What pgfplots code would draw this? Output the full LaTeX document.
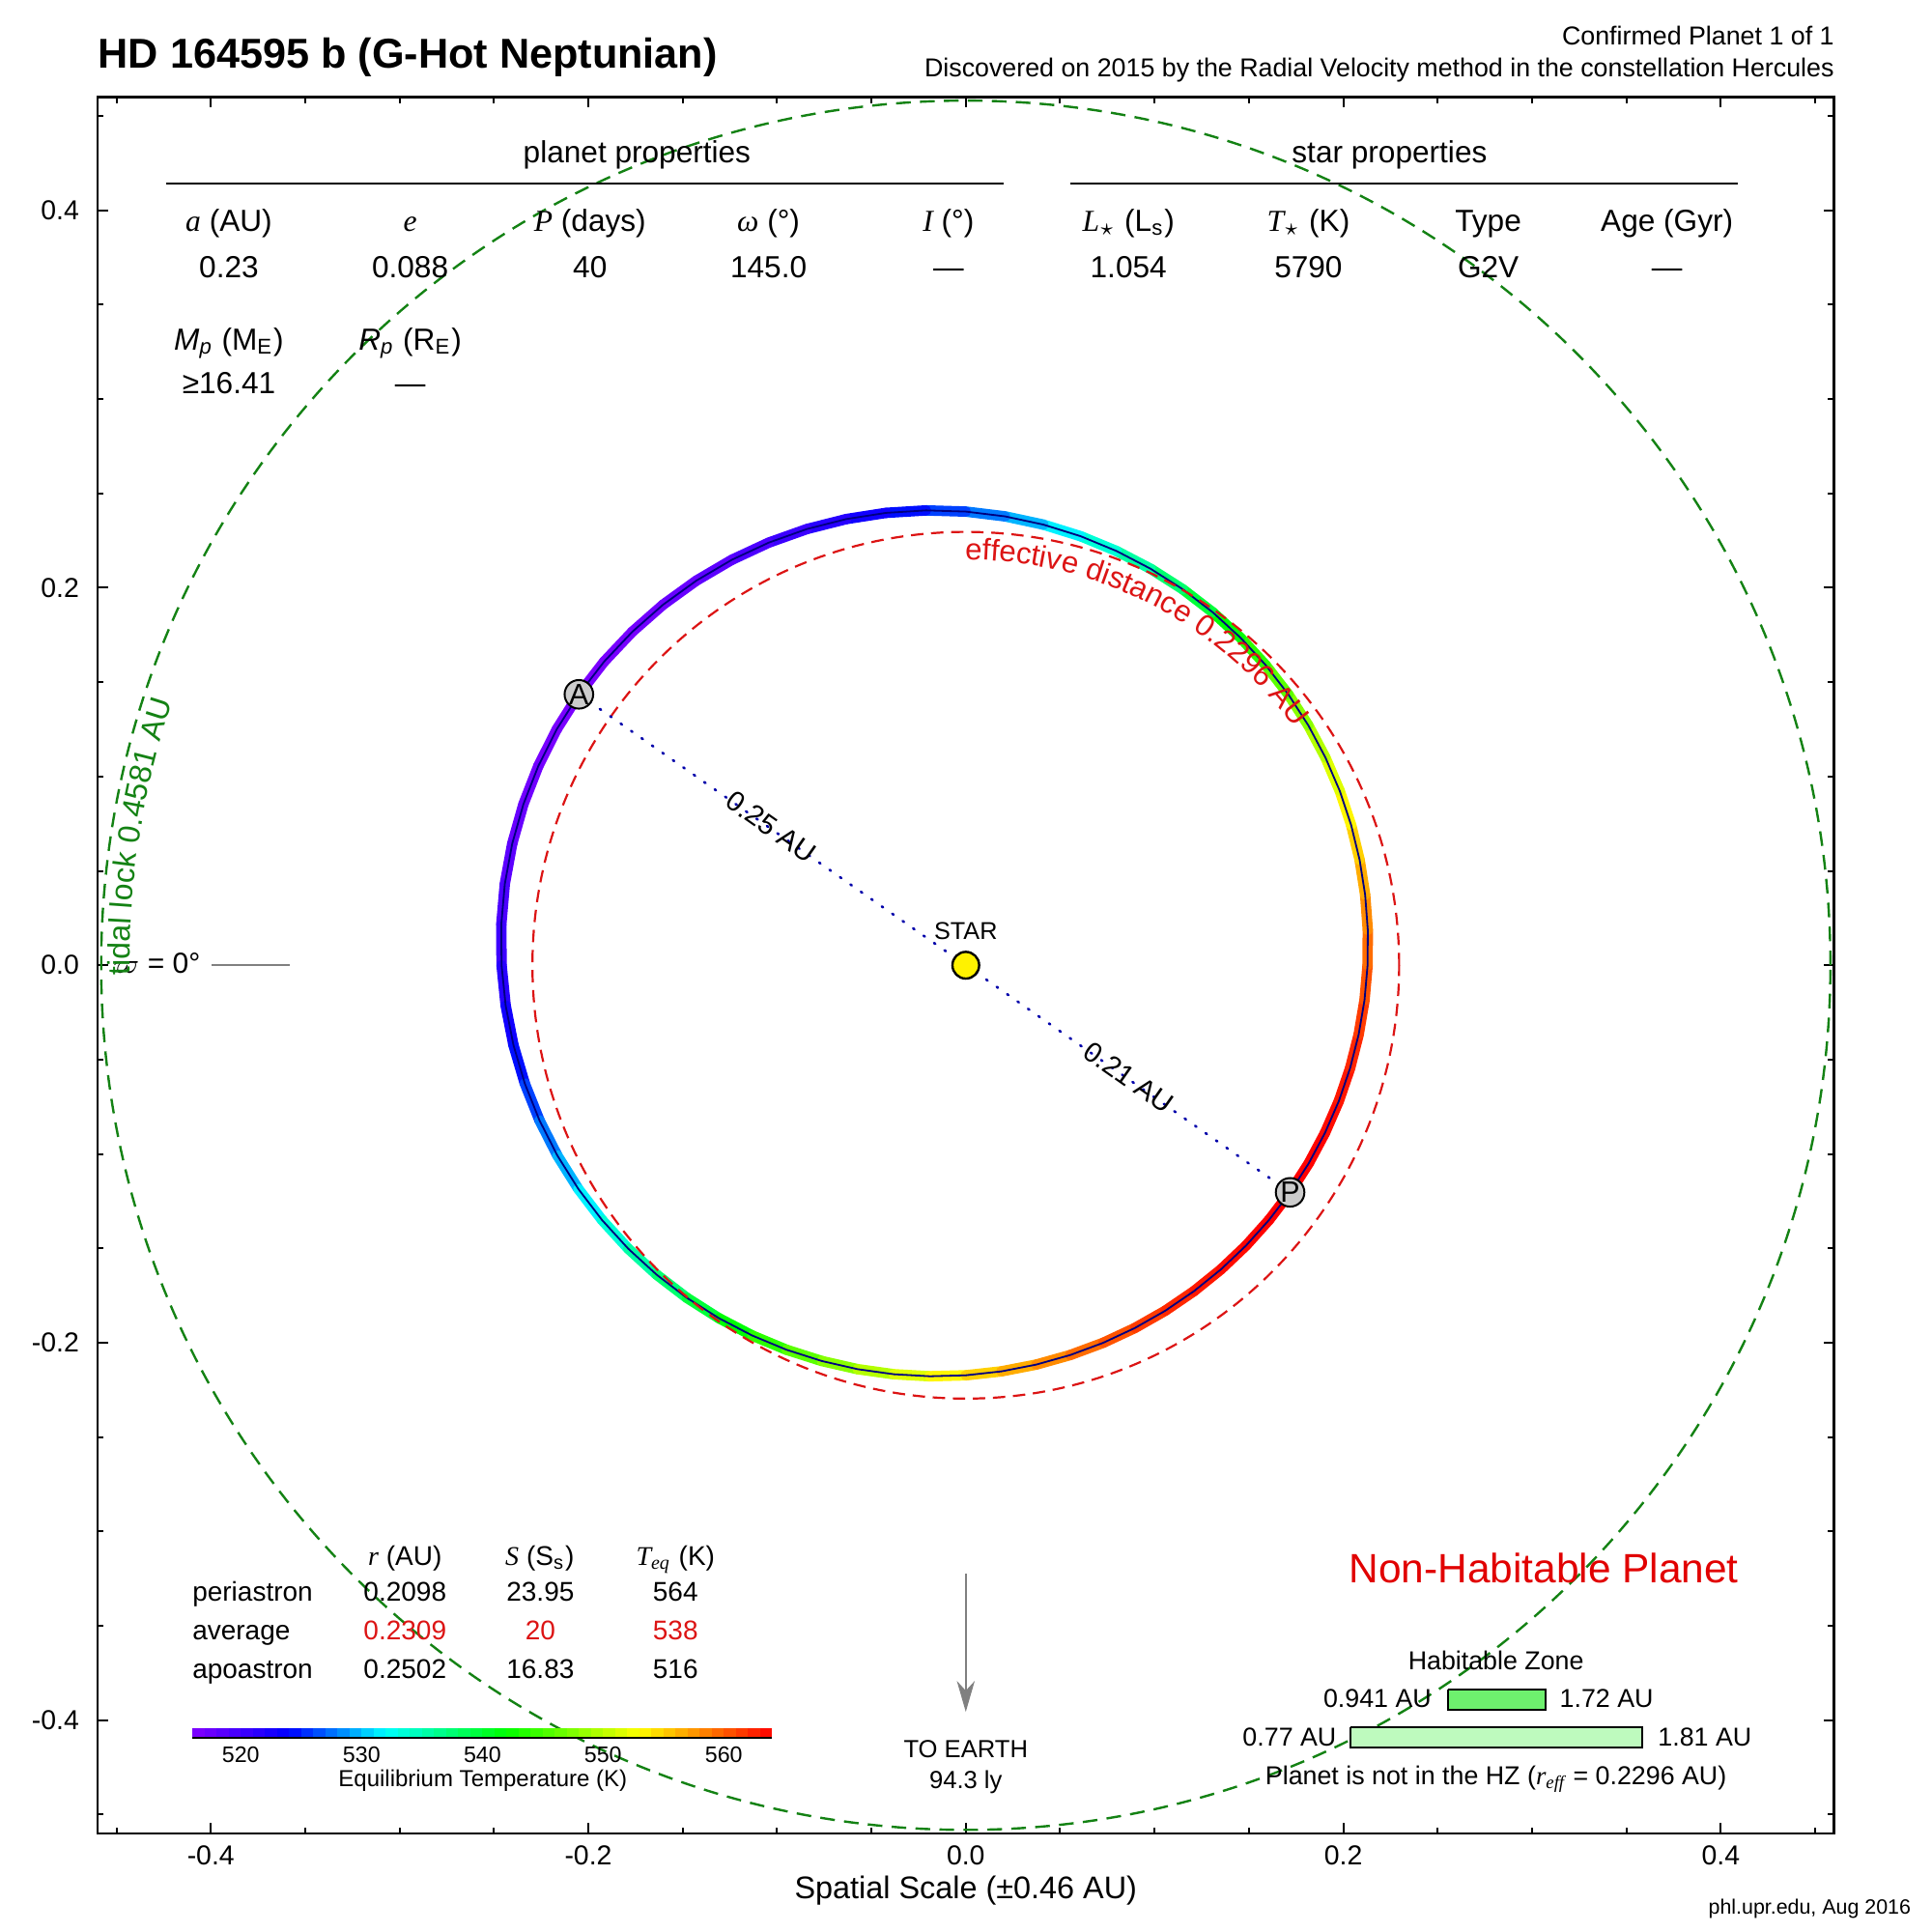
\documentclass[border=0pt]{standalone}
\usepackage{fontspec}
\setmainfont{Liberation Sans}
\newfontfamily\tms{Liberation Serif}
\usepackage{pgfplots}
\usepackage{pgfplotstable}
\pgfplotsset{compat=1.18}
\usetikzlibrary{arrows.meta,decorations.text}
\newcommand\fs[1]{\fontsize{#1}{#1}\selectfont}
\newcommand\ti[1]{{\tms\itshape #1}}
\definecolor{tgreen}{RGB}{20,130,20}
\definecolor{ered}{RGB}{220,20,20}
\definecolor{navy}{RGB}{0,0,128}
\definecolor{dotblue}{RGB}{0,0,170}
\definecolor{hzA}{RGB}{110,240,110}
\definecolor{hzB}{RGB}{190,250,190}
\definecolor{nhred}{RGB}{225,0,0}
\tikzset{tx/.style={inner sep=0pt, outer sep=0pt}}

\pgfplotstableread{
x y T
0.171824 -0.120314 564.04
0.181714 -0.104913 563.96
0.190341 -0.088757 563.70
0.197655 -0.071941 563.27
0.203606 -0.054556 562.66
0.208151 -0.036703 561.90
0.211250 -0.018482 560.98
0.212876 0.000000 559.90
0.212992 0.018634 558.68
0.211585 0.037308 557.32
0.208641 0.055905 555.84
0.204151 0.074305 554.23
0.198120 0.092385 552.52
0.190551 0.110015 550.72
0.181486 0.127077 548.83
0.170933 0.143430 546.88
0.158946 0.158946 544.87
0.145579 0.173494 542.82
0.130902 0.186946 540.75
0.114992 0.199171 538.67
0.097946 0.210047 536.60
0.079875 0.219455 534.56
0.060900 0.227283 532.55
0.041162 0.233439 530.59
0.020806 0.237815 528.72
0.000000 0.240350 526.93
-0.021083 0.240982 525.23
-0.042260 0.239670 523.65
-0.063337 0.236379 522.21
-0.084121 0.231120 520.89
-0.104407 0.223902 519.74
-0.124001 0.214775 518.74
-0.142700 0.203797 517.91
-0.160326 0.191069 517.26
-0.176685 0.176685 516.79
-0.191653 0.160816 516.47
-0.204985 0.143532 516.41
-0.216667 0.125093 516.47
-0.226460 0.105600 516.79
-0.234381 0.085308 517.26
-0.240313 0.064391 517.91
-0.244233 0.043065 518.74
-0.246108 0.021532 519.74
-0.245953 0.000000 520.89
-0.243786 -0.021329 522.21
-0.239670 -0.042260 523.65
-0.233660 -0.062609 525.23
-0.225855 -0.082205 526.93
-0.216356 -0.100889 528.72
-0.205283 -0.118520 530.59
-0.192747 -0.134963 532.55
-0.178901 -0.150116 534.56
-0.163880 -0.163880 536.60
-0.147830 -0.176177 538.67
-0.130902 -0.186946 540.75
-0.113241 -0.196138 542.82
-0.094998 -0.203723 544.87
-0.076317 -0.209680 546.88
-0.057342 -0.214004 548.83
-0.038208 -0.216686 550.72
-0.019052 -0.217769 552.52
0.000000 -0.217253 554.23
0.018826 -0.215179 555.84
0.037308 -0.211585 557.32
0.055337 -0.206521 558.68
0.072808 -0.200038 559.90
0.089619 -0.192189 560.98
0.105681 -0.183045 561.90
0.120903 -0.172668 562.66
0.135205 -0.161130 563.27
0.148505 -0.148505 563.70
0.160735 -0.134874 563.96
0.171824 -0.120314 564.04
}\orbit

\begin{document}
\begin{tikzpicture}
\path (-25.25pt,-25.5pt) rectangle (474.75pt,474.5pt);
\begin{axis}[
  at={(0,0)}, anchor=south west, scale only axis,
  width=449.4pt, height=449.4pt,
  xmin=-0.46, xmax=0.46, ymin=-0.46, ymax=0.46,
  axis line style={line width=0.6pt},
  xtick={-0.4,-0.2,0,0.2,0.4},
  ytick={-0.4,-0.2,0,0.2,0.4},
  xticklabels={-0.4,-0.2,0.0,0.2,0.4},
  yticklabels={-0.4,-0.2,0.0,0.2,0.4},
  minor xtick={-0.45,-0.35,-0.3,-0.25,-0.15,-0.1,-0.05,0.05,0.1,0.15,0.25,0.3,0.35,0.45},
  minor ytick={-0.45,-0.35,-0.3,-0.25,-0.15,-0.1,-0.05,0.05,0.1,0.15,0.25,0.3,0.35,0.45},
  tick align=inside,
  major tick length=2.75pt, minor tick length=1.6pt,
  tick style={black, line width=0.5pt},
  xticklabel style={font=\fs{7.1}, inner sep=0pt, yshift=-2.9pt},
  yticklabel style={font=\fs{7.1}, inner sep=0pt, xshift=-4.6pt},
  colormap={orbit}{rgb255(0cm)=(130,0,255); rgb255(8cm)=(0,0,255); rgb255(16cm)=(0,255,255); rgb255(26cm)=(0,255,0); rgb255(37cm)=(255,255,0); rgb255(48cm)=(255,0,0)},
  point meta min=516, point meta max=564,
]
% orbit band coloured by equilibrium temperature
\addplot[mesh, point meta=explicit, line width=2.7pt, line cap=round] table[x=x, y=y, meta=T] {\orbit};
\addplot[navy, line width=0.45pt] table[x=x, y=y] {\orbit};

% effective distance and tidal lock circles
\draw[ered, line width=0.55pt, dash pattern=on 3.2pt off 2pt] (axis cs:0,0) circle[radius=0.2296];
\draw[tgreen, line width=0.6pt, dash pattern=on 3.8pt off 2.4pt] (axis cs:0,0) circle[radius=0.4581];

% apsidal line
\addplot[dotblue, line width=0.65pt, dash pattern=on 0.4pt off 2.9pt, line cap=round] coordinates {(-0.204985,0.143532) (0.171824,-0.120314)};
\node[tx, rotate=-35, font=\fs{7.3}] at (axis cs:-0.1031,0.0733) {0.25 AU};
\node[tx, rotate=-35, font=\fs{7.3}] at (axis cs:0.0862,-0.0595) {0.21 AU};

% apoastron / periastron markers
\addplot[only marks, mark=*, mark size=3.7pt, mark options={fill=black!20, draw=black, line width=0.5pt},
  nodes near coords, point meta=explicit symbolic,
  every node near coord/.append style={anchor=center, inner sep=0pt, font=\fs{7.6}, text=black}]
  coordinates {(-0.204985,0.143532) [A] (0.171824,-0.120314) [P]};

% star
\addplot[only marks, mark=*, mark size=3.46pt, mark options={fill=yellow, draw=black, line width=0.6pt}] coordinates {(0,0)};
\node[tx, anchor=base, font=\fs{6.3}] at (axis cs:0,0.0137) {STAR};

% line of nodes
\addplot[gray, line width=0.5pt] coordinates {(-0.3995,0) (-0.3579,0)};
\node[tx, anchor=base west, font=\fs{7.5}] at (axis cs:-0.4518,-0.0043) {$\varpi$ = 0°};

% planet properties table
\node[tx, anchor=base, font=\fs{7.9}] at (axis cs:-0.1742,0.4250) {planet properties};
\node[tx, anchor=base, font=\fs{7.9}] at (axis cs:0.2245,0.4250) {star properties};
\draw[black, line width=0.6pt] (axis cs:-0.4235,0.4143) -- (axis cs:0.0202,0.4143);
\draw[black, line width=0.6pt] (axis cs:0.0555,0.4143) -- (axis cs:0.4091,0.4143);
\begin{scope}[every node/.style={tx, anchor=base, font=\fs{7.9}}]
\node at (axis cs:-0.3904,0.3890) {\ti{a} (AU)};
\node at (axis cs:-0.2944,0.3890) {\ti{e}};
\node at (axis cs:-0.1991,0.3890) {\ti{P} (days)};
\node at (axis cs:-0.1045,0.3890) {\ti{ω} (°)};
\node at (axis cs:-0.0092,0.3890) {\ti{I} (°)};
\node at (axis cs:0.0862,0.3890) {\ti{L}\textsubscript{$\star$} (L\textsubscript{s})};
\node at (axis cs:0.1815,0.3890) {\ti{T}\textsubscript{$\star$} (K)};
\node at (axis cs:0.2768,0.3890) {Type};
\node at (axis cs:0.3715,0.3890) {Age (Gyr)};
\node at (axis cs:-0.3904,0.3642) {0.23};
\node at (axis cs:-0.2944,0.3642) {0.088};
\node at (axis cs:-0.1991,0.3642) {40};
\node at (axis cs:-0.1045,0.3642) {145.0};
\node at (axis cs:-0.0092,0.3642) {—};
\node at (axis cs:0.0862,0.3642) {1.054};
\node at (axis cs:0.1815,0.3642) {5790};
\node at (axis cs:0.2768,0.3642) {G2V};
\node at (axis cs:0.3715,0.3642) {—};
\node at (axis cs:-0.3904,0.3258) {\textit{M}\textsubscript{\textit{p}} (M\textsubscript{E})};
\node at (axis cs:-0.2944,0.3258) {\textit{R}\textsubscript{\textit{p}} (R\textsubscript{E})};
\node at (axis cs:-0.3904,0.3028) {≥16.41};
\node at (axis cs:-0.2944,0.3028) {—};
\end{scope}

% orbit distances table
\begin{scope}[every node/.style={tx, anchor=base, font=\fs{7}}]
\node at (axis cs:-0.2971,-0.3182) {\ti{r} (AU)};
\node at (axis cs:-0.2257,-0.3182) {\ti{S} (S\textsubscript{s})};
\node at (axis cs:-0.1538,-0.3182) {\ti{T}\textsubscript{\ti{eq}} (K)};
\node[anchor=base west] at (axis cs:-0.4097,-0.3369) {periastron};
\node[anchor=base west] at (axis cs:-0.4097,-0.3574) {average};
\node[anchor=base west] at (axis cs:-0.4097,-0.3778) {apoastron};
\node at (axis cs:-0.2971,-0.3369) {0.2098};
\node at (axis cs:-0.2254,-0.3369) {23.95};
\node at (axis cs:-0.1538,-0.3369) {564};
\node[text=ered] at (axis cs:-0.2971,-0.3574) {0.2309};
\node[text=ered] at (axis cs:-0.2254,-0.3574) {20};
\node[text=ered] at (axis cs:-0.1538,-0.3574) {538};
\node at (axis cs:-0.2971,-0.3778) {0.2502};
\node at (axis cs:-0.2254,-0.3778) {16.83};
\node at (axis cs:-0.1538,-0.3778) {516};
\end{scope}

% colour bar
\addplot[mesh, point meta=explicit, line width=2.5pt, line cap=butt] coordinates {
(-0.40970,-0.40685) [516] (-0.40330,-0.40685) [517] (-0.39690,-0.40685) [518] (-0.39051,-0.40685) [519]
(-0.38411,-0.40685) [520] (-0.37771,-0.40685) [521] (-0.37131,-0.40685) [522] (-0.36491,-0.40685) [523]
(-0.35852,-0.40685) [524] (-0.35212,-0.40685) [525] (-0.34572,-0.40685) [526] (-0.33932,-0.40685) [527]
(-0.33293,-0.40685) [528] (-0.32653,-0.40685) [529] (-0.32013,-0.40685) [530] (-0.31373,-0.40685) [531]
(-0.30733,-0.40685) [532] (-0.30094,-0.40685) [533] (-0.29454,-0.40685) [534] (-0.28814,-0.40685) [535]
(-0.28174,-0.40685) [536] (-0.27534,-0.40685) [537] (-0.26895,-0.40685) [538] (-0.26255,-0.40685) [539]
(-0.25615,-0.40685) [540] (-0.24975,-0.40685) [541] (-0.24335,-0.40685) [542] (-0.23696,-0.40685) [543]
(-0.23056,-0.40685) [544] (-0.22416,-0.40685) [545] (-0.21776,-0.40685) [546] (-0.21136,-0.40685) [547]
(-0.20497,-0.40685) [548] (-0.19857,-0.40685) [549] (-0.19217,-0.40685) [550] (-0.18577,-0.40685) [551]
(-0.17938,-0.40685) [552] (-0.17298,-0.40685) [553] (-0.16658,-0.40685) [554] (-0.16018,-0.40685) [555]
(-0.15378,-0.40685) [556] (-0.14739,-0.40685) [557] (-0.14099,-0.40685) [558] (-0.13459,-0.40685) [559]
(-0.12819,-0.40685) [560] (-0.12179,-0.40685) [561] (-0.11540,-0.40685) [562] (-0.10900,-0.40685) [563]
(-0.10260,-0.40685) [564]
};
\draw[black, line width=0.5pt] (axis cs:-0.4097,-0.4094) -- (axis cs:-0.1026,-0.4094);
\begin{scope}[every node/.style={tx, anchor=base, font=\fs{5.8}}]
\node at (axis cs:-0.3841,-0.4222) {520};
\node at (axis cs:-0.3201,-0.4222) {530};
\node at (axis cs:-0.2561,-0.4222) {540};
\node at (axis cs:-0.1922,-0.4222) {550};
\node at (axis cs:-0.1282,-0.4222) {560};
\end{scope}
\node[tx, anchor=base, font=\fs{6}] at (axis cs:-0.2559,-0.4350) {Equilibrium Temperature (K)};

% direction to Earth
\addplot[black!50, line width=0.55pt, -{Stealth[length=8pt, width=4.6pt, inset=2.5pt]}] coordinates {(0,-0.3224) (0,-0.3956)};
\node[tx, anchor=base, font=\fs{6.4}] at (axis cs:0,-0.4197) {TO EARTH};
\node[tx, anchor=base, font=\fs{6.4}] at (axis cs:0,-0.4360) {94.3 ly};

% habitability
\node[tx, anchor=base, font=\fs{10.6}, text=nhred] at (axis cs:0.3063,-0.3270) {Non-Habitable Planet};
\node[tx, anchor=base, font=\fs{6.7}] at (axis cs:0.2809,-0.3731) {Habitable Zone};
\addplot[draw=black, line width=0.6pt, fill=hzA] coordinates {(0.2554,-0.3838) (0.3071,-0.3838) (0.3071,-0.3946) (0.2554,-0.3946) (0.2554,-0.3838)};
\addplot[draw=black, line width=0.6pt, fill=hzB] coordinates {(0.2039,-0.4038) (0.3585,-0.4038) (0.3585,-0.4145) (0.2039,-0.4145) (0.2039,-0.4038)};
\begin{scope}[every node/.style={tx, font=\fs{6.7}}]
\node[anchor=base east] at (axis cs:0.2467,-0.3932) {0.941 AU};
\node[anchor=base west] at (axis cs:0.3147,-0.3932) {1.72 AU};
\node[anchor=base east] at (axis cs:0.1963,-0.4137) {0.77 AU};
\node[anchor=base west] at (axis cs:0.3668,-0.4137) {1.81 AU};
\node[anchor=base] at (axis cs:0.2809,-0.4341) {Planet is not in the HZ (\ti{r}\textsubscript{\ti{eff}} = 0.2296 AU)};
\end{scope}
\end{axis}

% curved labels along the circles
\path[decorate, decoration={text along path, text align={fit to path},
  text={|\fs{7.8}\color{ered}|effective distance 0.2296 AU}}]
  (224.7pt,224.7pt) ++(90.1:104.9pt) arc[start angle=90.1, end angle=36.2, radius=104.9pt];
\path[decorate, decoration={text along path, text align={fit to path},
  text={|\fs{8}\color{tgreen}|tidal lock 0.4581 AU}}]
  (224.7pt,224.7pt) ++(180.7:216.4pt) arc[start angle=180.7, end angle=161.6, radius=216.4pt];

% titles and labels outside the frame
\node[tx, anchor=base west, font=\bfseries\fs{10.8}] at (0.2pt,456.75pt) {HD 164595 b (G-Hot Neptunian)};
\node[tx, anchor=base east, font=\fs{6.7}] at (449.4pt,462.9pt) {Confirmed Planet 1 of 1};
\node[tx, anchor=base east, font=\fs{6.7}] at (449.4pt,454.5pt) {Discovered on 2015 by the Radial Velocity method in the constellation Hercules};
\node[tx, anchor=base, font=\fs{8.1}] at (224.7pt,-16.75pt) {Spatial Scale (±0.46 AU)};
\node[tx, anchor=base east, font=\fs{5.35}] at (469.25pt,-20.75pt) {phl.upr.edu, Aug 2016};
\end{tikzpicture}
\end{document}
